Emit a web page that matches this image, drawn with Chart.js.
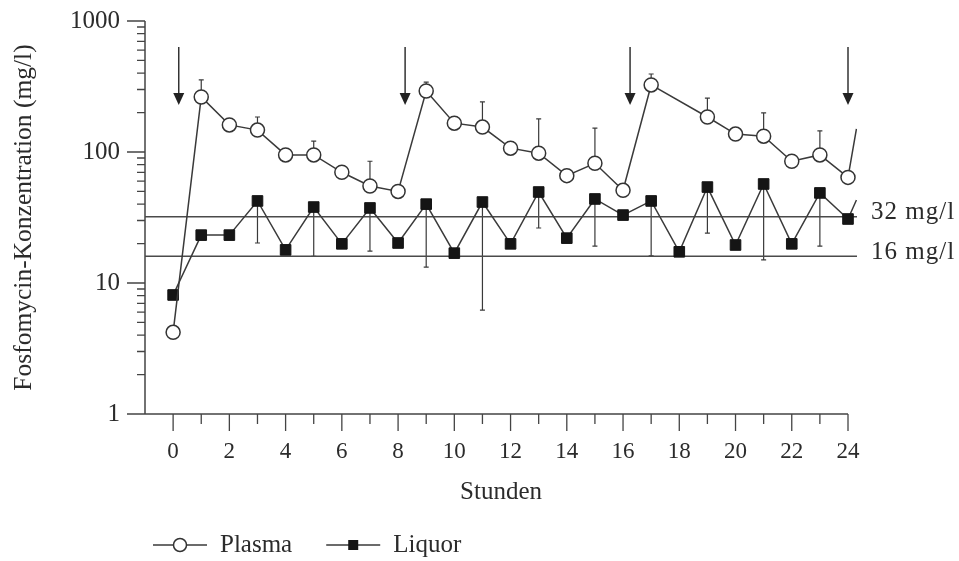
<!DOCTYPE html>
<html>
<head>
<meta charset="utf-8">
<script src="https://cdn.jsdelivr.net/npm/chart.js@4.4.1/dist/chart.umd.min.js"></script>
<style>
  html, body { margin: 0; padding: 0; background: #fff; }
  #wrap { width: 959px; height: 561px; }
</style>
</head>
<body>
<div id="wrap"><canvas id="fosfoChart"></canvas></div>
<script>
// Messzeitpunkte (Stunden)
var hours = [0, 1, 2, 3, 4, 5, 6, 7, 8, 9, 10, 11, 12, 13, 14, 15, 16, 17, 18, 19, 20, 21, 22, 23, 24];

// Plasma (mg/l), Mittelwert und oberes Ende des Fehlerbalkens
var plasma      = [4.2, 263, 161, 147, 95, 95, 70, 55, 50, 292, 166, 155, 107, 98, 66, 82, 51, 325, null, 185, 137, 132, 85, 95, 64];
var plasmaUpper = [null, 355, null, 185, null, 121, null, 85, null, 342, null, 241, null, 179, null, 152, null, 394, null, 258, null, 199, null, 145, null];

// Liquor (mg/l), Mittelwert und unteres Ende des Fehlerbalkens
var liquor      = [8.1, 23.2, 23.2, 42.3, 17.9, 38, 19.9, 37.4, 20.2, 40, 16.9, 41.5, 19.9, 49.5, 22, 43.8, 33, 42.3, 17.3, 54, 19.5, 57, 19.9, 48.7, 30.8];
var liquorLower = [null, null, null, 20.2, null, 16, null, 17.5, null, 13.2, null, 6.2, null, 26.3, null, 19.1, null, 16.1, null, 24, null, 15, null, 19.1, null];

// Anstieg nach der nächsten Gabe (Linie ohne Symbol)
var tailHour = 24.3;
var plasmaTail = 150;
var liquorTail = 43;

// Gabezeitpunkte (Pfeile)
var doseHours = [0.2, 8.25, 16.25, 24];

// Grenzwerte
var thresholds = [32, 16];
var thresholdLabels = ["32 mg/l", "16 mg/l"];

// Achsenbeschriftung
var xTickValues = [0, 2, 4, 6, 8, 10, 12, 14, 16, 18, 20, 22, 24];
var xMinorValues = [1, 3, 5, 7, 9, 11, 13, 15, 17, 19, 21, 23];
var yTickValues = [1, 10, 100, 1000];

var xMin = -1, xMax = 24.32;
var ink = "#2b2b2b";
var lineInk = "#3a3a3a";
var serif = "'Liberation Serif', 'DejaVu Serif', serif";

function toPoints(xs, ys, tail) {
    var pts = [];
    xs.forEach(function (x, i) { if (ys[i] !== null) pts.push({ x: x, y: ys[i], err: null }); });
    if (tail) pts.push(tail);
    return pts;
}
function withErr(pts, errs) {
    pts.forEach(function (p) {
        var i = hours.indexOf(p.x);
        if (i >= 0) p.err = errs[i];
    });
    return pts;
}
function markerRadius(r) {
    return function (c) { return c.raw && c.raw.x > 24 ? 0 : r; };
}

var plasmaPoints = withErr(toPoints(hours, plasma, { x: tailHour, y: plasmaTail }), plasmaUpper);
var liquorPoints = withErr(toPoints(hours, liquor, { x: tailHour, y: liquorTail }), liquorLower);

var datasets = thresholds.map(function (v) {
    return {
        label: "",
        data: [{ x: xMin, y: v }, { x: xMax, y: v }],
        borderColor: "#4a4a4a",
        borderWidth: 1.5,
        pointRadius: 0,
        order: 5
    };
});
datasets.push({
    label: "Liquor",
    data: liquorPoints,
    borderColor: lineInk,
    borderWidth: 1.5,
    pointStyle: "rect",
    pointRadius: markerRadius(7.5),
    pointBackgroundColor: "#151515",
    pointBorderColor: "#151515",
    pointBorderWidth: 1,
    order: 2
});
datasets.push({
    label: "Plasma",
    data: plasmaPoints,
    borderColor: lineInk,
    borderWidth: 1.5,
    pointStyle: "circle",
    pointRadius: markerRadius(7),
    pointBackgroundColor: "#ffffff",
    pointBorderColor: "#333333",
    pointBorderWidth: 1.5,
    order: 1
});

// Fehlerbalken, Achsen, Pfeile, Grenzwert-Beschriftung und Legende
var decorPlugin = {
    id: "decor",
    beforeDatasetsDraw: function (chart) {
        var c = chart.ctx, xs = chart.scales.x, ys = chart.scales.y, a = chart.chartArea;
        c.save();
        c.strokeStyle = lineInk;
        c.lineWidth = 1.2;
        chart.data.datasets.forEach(function (ds) {
            ds.data.forEach(function (p) {
                if (p.err === undefined || p.err === null) return;
                var px = xs.getPixelForValue(p.x);
                var y0 = ys.getPixelForValue(p.y), y1 = ys.getPixelForValue(p.err);
                c.beginPath();
                c.moveTo(px, y0); c.lineTo(px, y1);
                c.moveTo(px - 2.5, y1); c.lineTo(px + 2.5, y1);
                c.stroke();
            });
        });
        // Achsen
        c.strokeStyle = "#444";
        c.lineWidth = 1.5;
        c.beginPath();
        c.moveTo(a.left, a.top); c.lineTo(a.left, a.bottom);
        c.moveTo(a.left, a.bottom); c.lineTo(xs.getPixelForValue(24), a.bottom);
        c.stroke();
        c.lineWidth = 1.3;
        c.beginPath();
        xTickValues.forEach(function (v) {
            var px = xs.getPixelForValue(v);
            c.moveTo(px, a.bottom); c.lineTo(px, a.bottom + 17);
        });
        xMinorValues.forEach(function (v) {
            var px = xs.getPixelForValue(v);
            c.moveTo(px, a.bottom); c.lineTo(px, a.bottom + 10);
        });
        yTickValues.forEach(function (v, i) {
            var py = ys.getPixelForValue(v);
            c.moveTo(a.left, py); c.lineTo(a.left - 18, py);
            if (i < yTickValues.length - 1) {
                for (var m = 2; m <= 9; m++) {
                    var pm = ys.getPixelForValue(v * m);
                    c.moveTo(a.left, pm); c.lineTo(a.left - 8, pm);
                }
            }
        });
        c.stroke();
        c.restore();
    },
    afterDatasetsDraw: function (chart) {
        var c = chart.ctx, xs = chart.scales.x, ys = chart.scales.y, a = chart.chartArea;
        c.save();
        // Pfeile für die Gaben
        c.strokeStyle = "#333";
        c.fillStyle = "#222";
        c.lineWidth = 1.5;
        doseHours.forEach(function (h) {
            var px = xs.getPixelForValue(h);
            var top = a.top + 26, tip = a.top + 84;
            c.beginPath();
            c.moveTo(px, top); c.lineTo(px, tip - 10);
            c.stroke();
            c.beginPath();
            c.moveTo(px - 5.5, tip - 12); c.lineTo(px + 5.5, tip - 12); c.lineTo(px, tip);
            c.closePath();
            c.fill();
        });
        // Grenzwerte
        c.fillStyle = ink;
        c.font = "25px " + serif;
        c.letterSpacing = "1px";
        c.textAlign = "left";
        c.textBaseline = "middle";
        thresholds.forEach(function (v, i) {
            c.fillText(thresholdLabels[i], a.right + 14, ys.getPixelForValue(v) - 4);
        });
        c.restore();
    },
    afterDraw: function (chart) {
        var c = chart.ctx;
        var y = 545, x = 153;
        c.save();
        c.font = "25px " + serif;
        c.textBaseline = "middle";
        c.textAlign = "left";
        ["Plasma", "Liquor"].forEach(function (name) {
            var ds = chart.data.datasets.filter(function (d) { return d.label === name; })[0];
            c.strokeStyle = ds.borderColor;
            c.lineWidth = 1.5;
            c.beginPath();
            c.moveTo(x, y); c.lineTo(x + 54, y);
            c.stroke();
            var mx = x + 27;
            if (ds.pointStyle === "circle") {
                c.beginPath();
                c.arc(mx, y, 6.5, 0, Math.PI * 2);
                c.fillStyle = ds.pointBackgroundColor;
                c.fill();
                c.strokeStyle = ds.pointBorderColor;
                c.lineWidth = ds.pointBorderWidth;
                c.stroke();
            } else {
                c.fillStyle = ds.pointBackgroundColor;
                c.fillRect(mx - 5, y - 5, 10, 10);
            }
            c.fillStyle = ink;
            c.fillText(name, x + 67, y);
            x += 67 + c.measureText(name).width + 34;
        });
        c.restore();
    }
};

var ctx = document.getElementById("fosfoChart").getContext("2d");
var fosfoChart = new Chart(ctx, {
    type: "line",
    data: { datasets: datasets },
    options: {
        responsive: true,
        maintainAspectRatio: false,
        animation: false,
        layout: { padding: { top: 21, right: 102, bottom: 50, left: 0 } },
        plugins: {
            legend: { display: false },
            tooltip: { enabled: false }
        },
        scales: {
            x: {
                type: "linear",
                min: xMin,
                max: xMax,
                grid: { display: false, drawTicks: false },
                border: { display: false },
                afterBuildTicks: function (s) { s.ticks = xTickValues.map(function (v) { return { value: v }; }); },
                afterFit: function (s) { s.height = 97; s.paddingLeft = 0; s.paddingRight = 0; },
                ticks: {
                    autoSkip: false, maxRotation: 0, padding: 24, color: ink,
                    font: { family: serif, size: 23 },
                    callback: function (v) { return String(v); }
                },
                title: {
                    display: true, text: "Stunden", color: ink,
                    font: { family: serif, size: 25 },
                    padding: { top: 0, bottom: 4 }
                }
            },
            y: {
                type: "logarithmic",
                min: 1,
                max: 1000,
                grid: { display: false, drawTicks: false },
                border: { display: false },
                afterBuildTicks: function (s) { s.ticks = yTickValues.map(function (v) { return { value: v }; }); },
                afterFit: function (s) { s.width = 145; s.paddingTop = 0; s.paddingBottom = 0; },
                ticks: {
                    padding: 25, color: ink,
                    font: { family: serif, size: 25 },
                    callback: function (v) { return String(v); }
                },
                title: {
                    display: true, text: "Fosfomycin-Konzentration (mg/l)", color: ink,
                    font: { family: serif, size: 25.5 },
                    padding: { top: 9, bottom: 0 }
                }
            }
        }
    },
    plugins: [decorPlugin]
});
</script>
</body>
</html>
